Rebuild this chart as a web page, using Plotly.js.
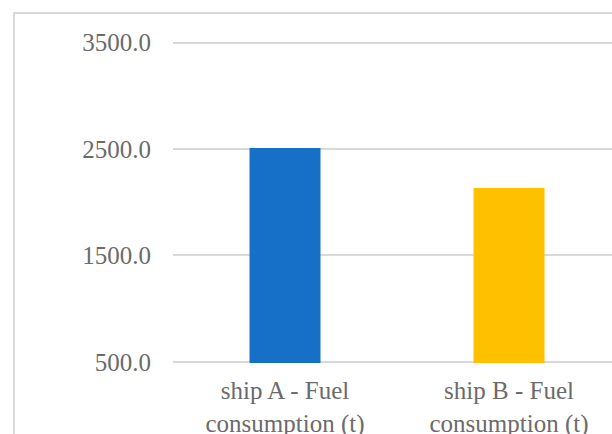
<!DOCTYPE html>
<html>
<head>
<meta charset="utf-8">
<script src="https://cdn.plot.ly/plotly-3.0.1.min.js"></script>
<style>
  html, body { margin: 0; padding: 0; overflow: hidden; background: #ffffff; width: 612px; height: 434px; }
  #chart { position: absolute; left: 13px; top: 12px; border: 2px solid #d9d9d9; }
</style>
</head>
<body>
<div id="chart"></div>
<script>
// Fuel consumption per ship, in tonnes
const categories = ['ship A - Fuel<br>consumption (t)', 'ship B - Fuel<br>consumption (t)'];
const fuelValues = [2510, 2134];
const barColors = ['#1770c8', '#ffc000'];
const yTickValues = [500, 1500, 2500, 3500];
const yTickLabels = ['500.0', '1500.0', '2500.0', '3500.0'];

const trace = {
  type: 'bar',
  x: categories,
  y: fuelValues,
  marker: { color: barColors },
  hoverinfo: 'x+y'
};

const layout = {
  width: 620,
  height: 441,
  margin: { l: 158, r: 14, t: 27, b: 92 },
  paper_bgcolor: '#ffffff',
  plot_bgcolor: '#ffffff',
  showlegend: false,
  bargap: 0.683,
  font: { family: 'Liberation Serif, Times New Roman, serif', size: 25, color: '#6b6b6b' },
  xaxis: {
    showgrid: false,
    zeroline: false,
    showline: false,
    ticks: '',
    ticklabelstandoff: 10,
    tickfont: { size: 25, color: '#6b6b6b' }
  },
  yaxis: {
    // a little headroom so the 3500 gridline is not clipped at the plot edge
    range: [490, 3515],
    tickvals: yTickValues,
    ticktext: yTickLabels,
    showgrid: true,
    gridcolor: '#d9d9d9',
    gridwidth: 2,
    zeroline: false,
    showline: false,
    ticks: '',
    ticklabelstandoff: 21,
    tickfont: { size: 25, color: '#6b6b6b' }
  }
};

Plotly.newPlot('chart', [trace], layout, { displayModeBar: false, staticPlot: true });
</script>
</body>
</html>
